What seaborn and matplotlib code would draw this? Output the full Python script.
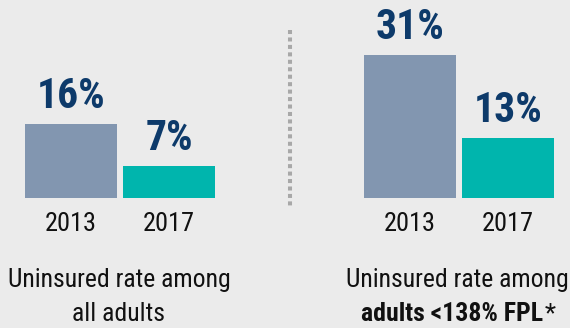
import matplotlib
matplotlib.use("Agg")
import matplotlib.pyplot as plt
import seaborn as sns
from matplotlib.lines import Line2D

years = ["2013", "2017"]
all_adults = [16, 7]
low_income = [31, 13]
pct_labels_all = ["16%", "7%"]
pct_labels_low = ["31%", "13%"]
caption_left = ["Uninsured rate among", "all adults"]
caption_right_top = "Uninsured rate among"
caption_right_bold = "adults <138% FPL"
caption_right_star = "*"

bar_colors = ["#8296b0", "#00b5ad"]
navy = "#0d3a6a"
bg = "#ebebeb"
ink = "#111111"

sns.set_style("white")
plt.rcParams["font.family"] = ["Roboto Condensed", "Liberation Sans Narrow",
                               "Roboto", "DejaVu Sans"]

W, H = 570, 328
fig = plt.figure(figsize=(W / 100, H / 100), dpi=100)
fig.patch.set_facecolor(bg)


def px_axes(x0, x1, base, top):
    return fig.add_axes([x0 / W, (H - base) / H, (x1 - x0) / W, (base - top) / H])


def draw_panel(ax, values, labels):
    sns.barplot(x=years, y=values, hue=years, palette=bar_colors, width=0.94,
                legend=False, saturation=1, linewidth=0, ax=ax)
    ax.set_xlim(-0.47, 1.47)
    ax.set_ylim(0, 35)
    ax.set_facecolor("none")
    for s in ax.spines.values():
        s.set_visible(False)
    ax.set_yticks([])
    ax.set_ylabel("")
    ax.set_xlabel("")
    ax.tick_params(axis="x", length=0, pad=10, labelsize=19, labelcolor=ink)
    for i, (v, lab) in enumerate(zip(values, labels)):
        ax.annotate(lab, (i, v), xytext=(0, 5), textcoords="offset points",
                    ha="center", va="bottom", fontsize=30, fontweight="bold",
                    color=navy)


# 35% of the y-range spans 161 px, baseline at y=198 px
ax1 = px_axes(25, 215, 198, 37)
draw_panel(ax1, all_adults, pct_labels_all)
ax2 = px_axes(364, 554, 198, 37)
draw_panel(ax2, low_income, pct_labels_low)

# dotted separator
fig.add_artist(Line2D([290 / W, 290 / W], [1 - 30 / H, 1 - 208 / H],
                      transform=fig.transFigure, color="#a8a8a8", lw=2.9,
                      linestyle=(0, (1, 0.85)), solid_capstyle="butt"))

fs = 18.5
txt = dict(fontsize=fs, color=ink, ha="center", va="baseline")
fig.text(119 / W, 1 - 287 / H, caption_left[0], **txt)
fig.text(119 / W, 1 - 321 / H, caption_left[1], **txt)
fig.text(457 / W, 1 - 287 / H, caption_right_top, **txt)

# bold part + normal asterisk, centred together
b = fig.text(0, 1 - 321 / H, caption_right_bold, fontsize=fs, fontweight="bold",
             color=ink, ha="left", va="baseline")
s = fig.text(0, 1 - 321 / H, caption_right_star, fontsize=fs, color=ink,
             ha="left", va="baseline")
fig.canvas.draw()
r = fig.canvas.get_renderer()
wb = b.get_window_extent(r).width
ws = s.get_window_extent(r).width
x0 = 458 - (wb + ws) / 2
b.set_x(x0 / W)
s.set_x((x0 + wb + 1) / W)

fig.savefig("out.png", dpi=100, facecolor=bg)
